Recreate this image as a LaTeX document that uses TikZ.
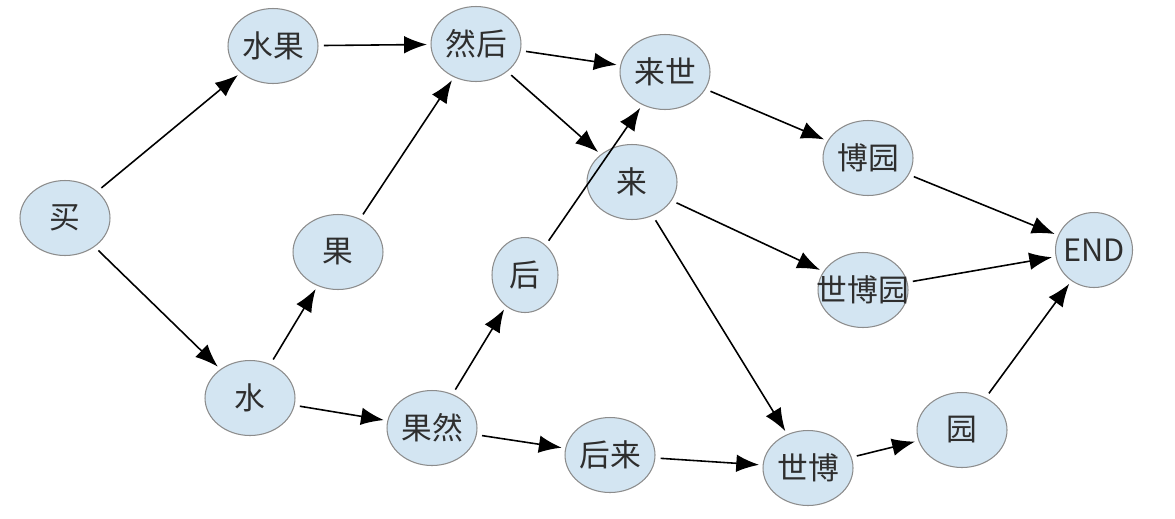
\documentclass[tikz,border=0pt]{standalone}
\usepackage{fontspec}
\newfontfamily\cjk{Noto Sans CJK SC}
\usetikzlibrary{shapes.geometric,arrows.meta}
\definecolor{nodefill}{HTML}{D3E5F2}
\definecolor{nodeline}{HTML}{8C8C8C}
\definecolor{nodetext}{HTML}{2E2E2E}
\begin{document}
\begin{tikzpicture}[x=0.02cm, y=-0.02cm,
  word/.style={ellipse, draw=nodeline, fill=nodefill, line width=0.6pt, text=nodetext, inner sep=0pt,
    minimum width=1.8cm, minimum height=1.5cm, font=\cjk\fontsize{17.5}{19}\selectfont},
  link/.style={-{Latex[length=13pt,width=10pt]}, line width=0.9pt, shorten <=3pt, shorten >=2pt}]
  \useasboundingbox (0,0) rectangle (1175,518);
  \node[word] (mai) at (65,218) {买};
  \node[word] (shuiguo) at (273,46) {水果};
  \node[word] (ranhou) at (476,44) {然后};
  \node[word] (laishi) at (665,72) {来世};
  \node[word] (boyuan) at (868,158) {博园};
  \node[word, minimum width=1.54cm] (end) at (1094,250) {\makebox[0pt]{END}};
  \node[word] (lai) at (632,182) {来};
  \node[word] (guo) at (338,252) {果};
  \node[word, minimum width=1.32cm] (hou) at (525,275) {后};
  \node[word] (shiboyuan) at (863,290) {\makebox[0pt]{世博园}};
  \node[word] (shui) at (250,398) {水};
  \node[word] (guoran) at (432,428) {果然};
  \node[word] (houlai) at (610,455) {后来};
  \node[word] (shibo) at (808,468) {世博};
  \node[word] (yuan) at (962,430) {园};
  \path[link] (mai) edge (shuiguo) edge (shui);
  \path[link] (shuiguo) edge (ranhou);
  \path[link] (ranhou) edge (laishi) edge (lai);
  \path[link] (laishi) edge (boyuan);
  \path[link] (boyuan) edge (end);
  \path[link] (lai) edge (shiboyuan) edge (shibo);
  \path[link] (shiboyuan) edge (end);
  \path[link] (guo) edge (ranhou);
  \path[link] (hou) edge (laishi);
  \path[link] (shui) edge (guo) edge (guoran);
  \path[link] (guoran) edge (hou) edge (houlai);
  \path[link] (houlai) edge (shibo);
  \path[link] (shibo) edge (yuan);
  \path[link] (yuan) edge (end);
\end{tikzpicture}
\end{document}
